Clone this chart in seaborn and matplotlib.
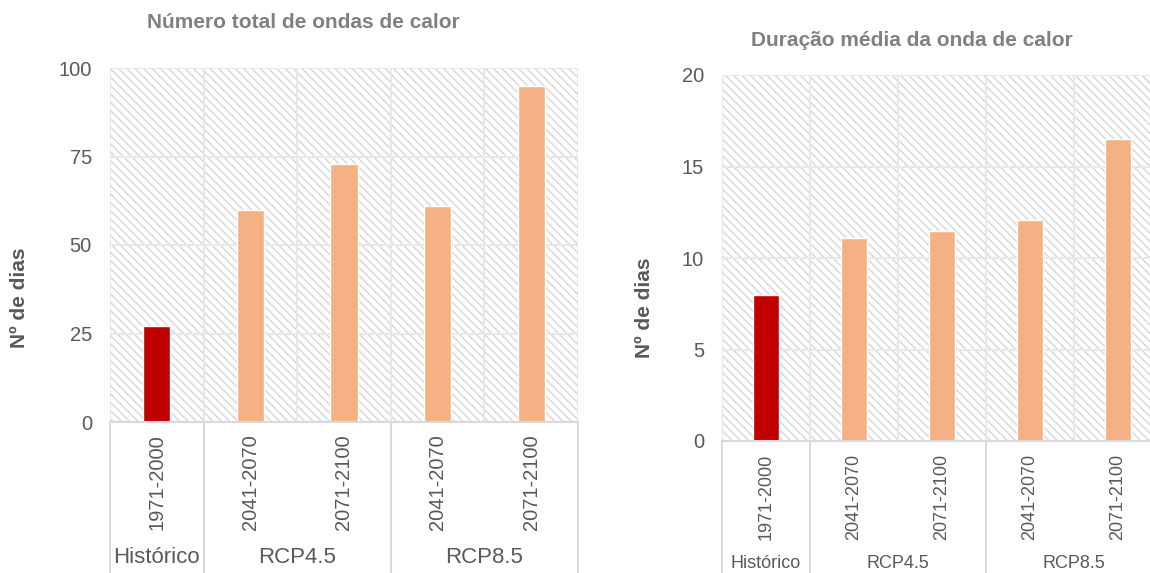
import numpy as np
import pandas as pd
import seaborn as sns
import matplotlib.pyplot as plt
from matplotlib.patches import Rectangle

# data
periods = ['1971-2000', '2041-2070', '2071-2100', '2041-2070', '2071-2100']
scenarios = ['Histórico', 'RCP4.5', 'RCP4.5', 'RCP8.5', 'RCP8.5']
total_waves = [27, 60, 73, 61, 95]
mean_duration = [8.0, 11.1, 11.45, 12.05, 16.5]

group_names = ['Histórico', 'RCP4.5', 'RCP8.5']
group_centres = [0, 1.5, 3.5]
group_edges = [-0.5, 0.5, 2.5, 4.5]

bar_colors = {'Histórico': '#C00000', 'RCP4.5': '#F4B183', 'RCP8.5': '#F4B183'}

sns.set_style('white')
plt.rcParams['font.family'] = ['Liberation Sans', 'DejaVu Sans']
plt.rcParams['hatch.linewidth'] = 1.0

text_grey = '#595959'
title_grey = '#808080'
grid_grey = '#e8e8e8'
line_grey = '#d9d9d9'

fig = plt.figure(figsize=(11.5, 5.73), dpi=100)
W, H = 1150, 573


def add_axes(left, top, right, bottom):
    return fig.add_axes([left / W, 1 - bottom / H, (right - left) / W, (bottom - top) / H])


def draw_panel(ax, values, ymax, step, group_y, year_size, group_size):
    df = pd.DataFrame({
        'key': [f'{s} {p}' for s, p in zip(scenarios, periods)],
        'value': values,
        'scenario': scenarios,
    })
    ax.add_patch(Rectangle((0, 0), 1, 1, transform=ax.transAxes, facecolor='white',
                           edgecolor='#d6d6d6', hatch='\\\\\\\\', lw=0, zorder=0.1))
    sns.barplot(data=df, x='key', y='value', hue='scenario', palette=bar_colors,
                width=0.29, saturation=1, legend=False, ax=ax, zorder=2)
    ax.set_xlim(-0.5, 4.5)
    ax.set_ylim(0, ymax)
    ax.set_yticks(np.arange(0, ymax + step / 2, step))
    ax.set_xticks(range(5))
    ax.set_xticklabels(periods, rotation=90, fontsize=year_size, color=text_grey)
    ax.set_xticks(np.arange(-0.5, 5, 1), minor=True)
    ax.tick_params(axis='y', labelsize=14.5, labelcolor=text_grey, length=0, pad=13)
    ax.tick_params(axis='x', which='both', length=0, pad=9)
    ax.set_xlabel('')
    ax.set_ylabel('')
    ax.set_axisbelow(True)
    ax.grid(axis='y', which='major', color=grid_grey, lw=1.5, zorder=0.5)
    ax.grid(axis='x', which='minor', color=grid_grey, lw=1.5, zorder=0.5)
    for side in ['top', 'left', 'right']:
        ax.spines[side].set_visible(False)
    ax.spines['bottom'].set_color(line_grey)
    ax.spines['bottom'].set_linewidth(1.5)
    trans = ax.get_xaxis_transform()
    for x in group_edges:
        ax.plot([x, x], [0, -0.6], transform=trans, color=line_grey, lw=1.5, clip_on=False)
    for name, xc in zip(group_names, group_centres):
        ax.text(xc, group_y, name, transform=trans, ha='center', va='center',
                fontsize=group_size, color=text_grey)


ax1 = add_axes(110, 68, 578, 422)
draw_panel(ax1, total_waves, 100, 25, -0.384, 14.5, 16)

ax2 = add_axes(722, 75, 1162, 441)
draw_panel(ax2, mean_duration, 20, 5, -0.336, 13, 13)

fig.text(303 / W, 1 - 22 / H, 'Número total de ondas de calor', ha='center', va='center',
         fontsize=15, fontweight='bold', color=title_grey)
fig.text(912 / W, 1 - 40 / H, 'Duração média da onda de calor', ha='center', va='center',
         fontsize=15, fontweight='bold', color=title_grey)
fig.text(20 / W, 1 - 298 / H, 'Nº de dias', rotation=90, ha='center', va='center',
         fontsize=15, fontweight='bold', color=text_grey)
fig.text(645 / W, 1 - 308 / H, 'Nº de dias', rotation=90, ha='center', va='center',
         fontsize=15, fontweight='bold', color=text_grey)

plt.savefig('out.png', dpi=100)
